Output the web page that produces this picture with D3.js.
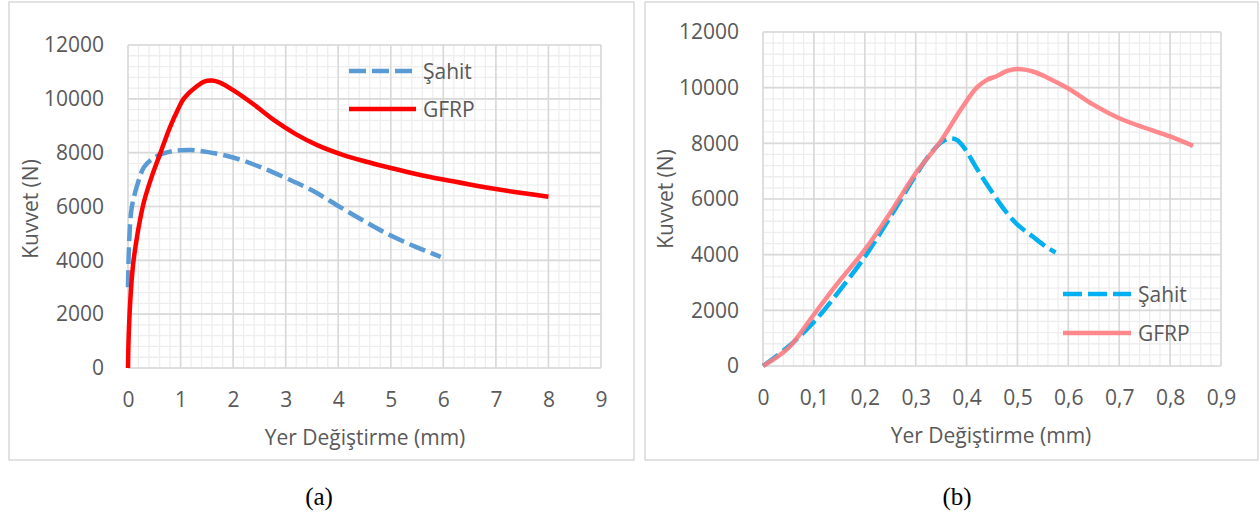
<!DOCTYPE html>
<html>
<head>
<meta charset="utf-8">
<script src="https://cdn.jsdelivr.net/npm/d3@7"></script>
<style>
body { margin: 0; background: #fff; }
text { font-family: "Open Sans", sans-serif; fill: #595959; }
.cap { font-family: "Liberation Serif", "Times New Roman", serif; fill: #000; }
</style>
</head>
<body>
<svg id="fig" width="1260" height="514"></svg>
<script>
// (a) - yer degistirme (mm) / kuvvet (N)
var sahitA = [[0,3000],[0.01,4000],[0.03,5000],[0.06,5800],[0.1,6250],[0.2,6950],[0.3,7450],[0.45,7750],[0.6,7920],[0.8,8040],[1.0,8090],[1.2,8100],[1.5,8030],[2.0,7820],[2.5,7480],[3.0,7060],[3.5,6600],[4.0,6020],[4.5,5450],[5.0,4920],[5.5,4480],[5.95,4130]];
var gfrpA = [[0,0],[0.01,1000],[0.03,2000],[0.06,3000],[0.1,3900],[0.15,4600],[0.2,5200],[0.3,6150],[0.45,7100],[0.6,7900],[0.8,8950],[0.95,9600],[1.05,9980],[1.15,10200],[1.3,10450],[1.45,10640],[1.6,10680],[1.75,10600],[2.0,10320],[2.4,9780],[2.8,9180],[3.2,8680],[3.6,8280],[4.1,7910],[4.5,7680],[5.0,7430],[5.5,7200],[6.0,7000],[6.5,6820],[7.0,6650],[7.5,6500],[8.0,6360]];

// (b)
var sahitB = [[0,0],[0.05,700],[0.1,1580],[0.15,2700],[0.2,3920],[0.25,5350],[0.3,6850],[0.33,7650],[0.35,8030],[0.365,8170],[0.38,8130],[0.395,7850],[0.42,7100],[0.45,6250],[0.475,5600],[0.5,5080],[0.53,4650],[0.555,4300],[0.575,4080]];
var gfrpB = [[0,0],[0.05,650],[0.1,1850],[0.15,3050],[0.2,4170],[0.25,5500],[0.3,6920],[0.35,8100],[0.39,9250],[0.42,10000],[0.44,10280],[0.46,10420],[0.48,10600],[0.5,10670],[0.53,10580],[0.56,10350],[0.6,9970],[0.65,9380],[0.7,8900],[0.75,8560],[0.8,8250],[0.845,7910]];

var seriesNames = ["Şahit", "GFRP"];
var xTitle = "Yer Değiştirme (mm)";
var yTitle = "Kuvvet (N)";
var xTicksA = [0,1,2,3,4,5,6,7,8,9];
var xTicksB = [0,0.1,0.2,0.3,0.4,0.5,0.6,0.7,0.8,0.9];
var yTicks = [0,2000,4000,6000,8000,10000,12000];
var captions = ["(a)", "(b)"];

var trLocale = d3.formatLocale({decimal: ",", thousands: ".", grouping: [3], currency: ["", ""]});

var svg = d3.select("#fig");

function drawChart(cfg) {

    svg.append("rect")
        .attr("x", cfg.frame[0]).attr("y", cfg.frame[1])
        .attr("width", cfg.frame[2]).attr("height", cfg.frame[3])
        .attr("fill", "#fff").attr("stroke", "#d9d9d9").attr("stroke-width", 1.5);

    var x = d3.scaleLinear().domain([0, cfg.xMax]).range([cfg.l, cfg.r]);
    var y = d3.scaleLinear().domain([0, 12000]).range([cfg.b, cfg.t]);

    var g = svg.append("g");

    // minor grid
    var xMinor = d3.range(0, cfg.xMax + cfg.xMinor/2, cfg.xMinor);
    var yMinor = d3.range(0, 12000 + 1, 400);
    g.selectAll(".mx").data(xMinor).enter().append("line")
        .attr("x1", d => x(d)).attr("x2", d => x(d))
        .attr("y1", cfg.t).attr("y2", cfg.b)
        .attr("stroke", "#eeeeee").attr("stroke-width", 1.3);
    g.selectAll(".my").data(yMinor).enter().append("line")
        .attr("y1", d => y(d)).attr("y2", d => y(d))
        .attr("x1", cfg.l).attr("x2", cfg.r)
        .attr("stroke", "#eeeeee").attr("stroke-width", 1.3);

    // major grid
    g.selectAll(".gx").data(cfg.xTicks).enter().append("line")
        .attr("x1", d => x(d)).attr("x2", d => x(d))
        .attr("y1", cfg.t).attr("y2", cfg.b)
        .attr("stroke", "#d9d9d9").attr("stroke-width", 1.6);
    g.selectAll(".gy").data(yTicks).enter().append("line")
        .attr("y1", d => y(d)).attr("y2", d => y(d))
        .attr("x1", cfg.l).attr("x2", cfg.r)
        .attr("stroke", "#d9d9d9").attr("stroke-width", 1.6);

    // axes (labels only)
    var xAxis = svg.append("g").attr("transform", "translate(0," + cfg.b + ")")
        .call(d3.axisBottom(x).tickValues(cfg.xTicks).tickSize(0).tickPadding(24).tickFormat(cfg.fmt));
    var yAxis = svg.append("g").attr("transform", "translate(" + cfg.l + ",0)")
        .call(d3.axisLeft(y).tickValues(yTicks).tickSize(0).tickPadding(24).tickFormat(d3.format("d")));
    [xAxis, yAxis].forEach(function(a) {
        a.select(".domain").remove();
        a.selectAll("text").attr("fill", "#595959").style("font-size", "21px")
            .style("font-family", "'Open Sans', sans-serif");
    });

    svg.append("text")
        .attr("x", cfg.xt[0]).attr("y", cfg.xt[1])
        .attr("text-anchor", "middle").attr("dominant-baseline", "central")
        .style("font-size", "21px").text(xTitle);
    svg.append("text")
        .attr("transform", "translate(" + cfg.yt[0] + "," + cfg.yt[1] + ") rotate(-90)")
        .attr("text-anchor", "middle").attr("dominant-baseline", "central")
        .style("font-size", "21px").text(yTitle);

    var line = d3.line().x(d => x(d[0])).y(d => y(d[1])).curve(d3.curveCatmullRom.alpha(0.5));

    svg.append("path").datum(cfg.sahit)
        .attr("d", line)
        .attr("fill", "none").attr("stroke", cfg.colors[0]).attr("stroke-width", cfg.lw)
        .attr("stroke-dasharray", cfg.dash);
    svg.append("path").datum(cfg.gfrp)
        .attr("d", line)
        .attr("fill", "none").attr("stroke", cfg.colors[1]).attr("stroke-width", cfg.lw)
        .attr("opacity", cfg.gOpacity);

    // legend
    seriesNames.forEach(function(name, i) {
        var ly = cfg.leg[1] + i * cfg.leg[3];
        svg.append("line")
            .attr("x1", cfg.leg[0]).attr("x2", cfg.leg[0] + cfg.leg[2])
            .attr("y1", ly).attr("y2", ly)
            .attr("stroke", cfg.colors[i]).attr("stroke-width", cfg.lw)
            .attr("stroke-dasharray", i == 0 ? cfg.dash : null)
            .attr("opacity", i == 1 ? cfg.gOpacity : 1);
        svg.append("text")
            .attr("x", cfg.leg[0] + cfg.leg[2] + 7).attr("y", ly)
            .attr("dominant-baseline", "central")
            .style("font-size", "21px").text(name);
    });

    svg.append("text").attr("class", "cap")
        .attr("x", cfg.cap[0]).attr("y", cfg.cap[1])
        .attr("text-anchor", "middle")
        .style("font-size", "25px").text(cfg.capText);
}

drawChart({
    frame: [9, 2, 625, 458], l: 128, r: 601, t: 45, b: 368,
    xMax: 9, xMinor: 0.2, xTicks: xTicksA, fmt: d3.format("d"),
    sahit: sahitA, gfrp: gfrpA, colors: ["#5b9bd5", "#ff0000"], lw: 4.5, dash: "17,6", gOpacity: 1,
    leg: [349, 71, 67, 38], xt: [365, 437], yt: [30, 209], cap: [319, 505], capText: captions[0]
});

drawChart({
    frame: [645, 2, 613, 458], l: 763, r: 1221, t: 32, b: 366,
    xMax: 0.9, xMinor: 0.02, xTicks: xTicksB, fmt: trLocale.format("~g"),
    sahit: sahitB, gfrp: gfrpB, colors: ["#00b0f0", "#ff7c80"], lw: 4.5, dash: "19,6", gOpacity: 0.9,
    leg: [1063, 294, 68, 39], xt: [991, 435], yt: [665, 199], cap: [957, 505], capText: captions[1]
});
</script>
</body>
</html>
